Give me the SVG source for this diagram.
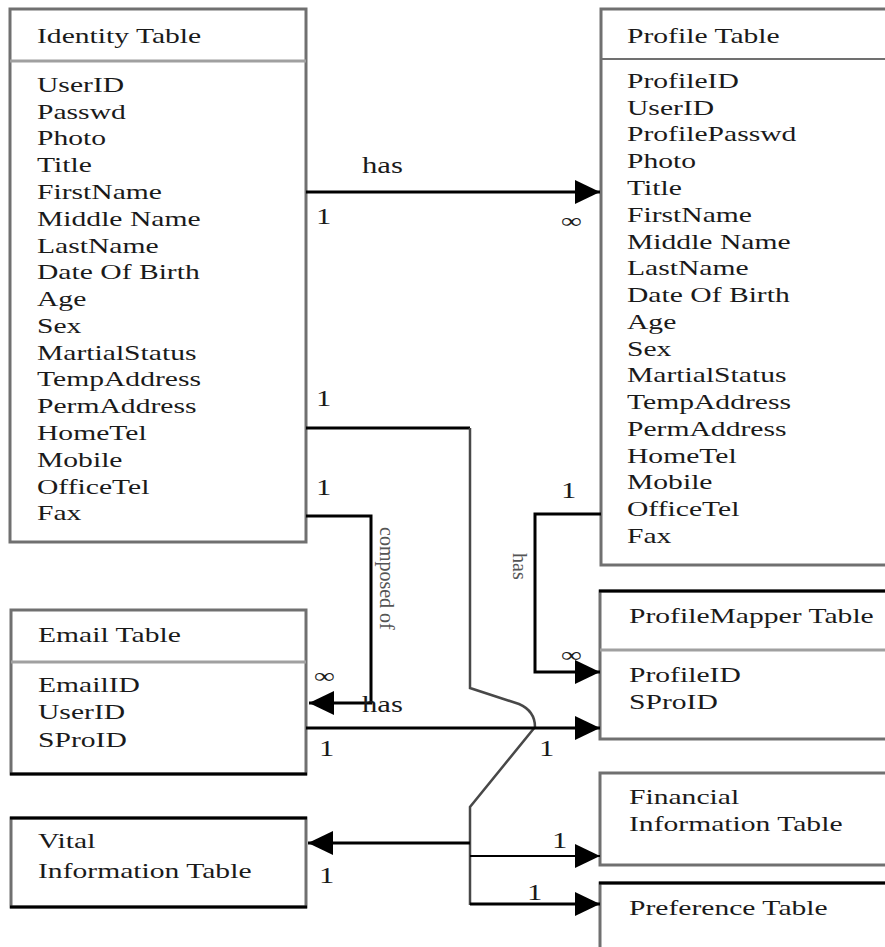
<svg xmlns="http://www.w3.org/2000/svg" width="885" height="947" viewBox="0 0 885 947">
<style>
  .box { fill: #ffffff; stroke: #707070; stroke-width: 3; }
  .dark { stroke: #000000; stroke-width: 3; }
  .sep { stroke: #a0a0a0; stroke-width: 3; }
  .sep2 { stroke: #707070; stroke-width: 2; }
  text { font-family: "Liberation Serif", "Times New Roman", serif; fill: #1a1a1a; }
  .t { font-size: 21px; }
  .lbl { font-size: 24px; }
  .vlbl { font-size: 20px; fill: #555555; }
  .con { fill: none; stroke: #000000; stroke-width: 3; }
  .con2 { fill: none; stroke: #000000; stroke-width: 2; }
  .gray { fill: none; stroke: #484848; stroke-width: 2.5; }
</style>
<defs>
  <marker id="arr" markerUnits="userSpaceOnUse" markerWidth="26" markerHeight="24" refX="25" refY="12" orient="auto">
    <path d="M0,0 L25,12 L0,24 Z" fill="#000000"/>
  </marker>
</defs>

<g id="identity-table">
  <rect class="box" x="10" y="9" width="296" height="533"/>
  <line class="sep" x1="10" y1="61" x2="306" y2="61"/>
  <g transform="translate(37,0) scale(1.41,1)" class="t">
    <text class="t" y="43">Identity Table</text>
    <text class="t" y="92">UserID</text>
    <text class="t" y="118.8">Passwd</text>
    <text class="t" y="145.5">Photo</text>
    <text class="t" y="172.3">Title</text>
    <text class="t" y="199.1">FirstName</text>
    <text class="t" y="225.9">Middle Name</text>
    <text class="t" y="252.6">LastName</text>
    <text class="t" y="279.4">Date Of Birth</text>
    <text class="t" y="306.2">Age</text>
    <text class="t" y="332.9">Sex</text>
    <text class="t" y="359.7">MartialStatus</text>
    <text class="t" y="386.5">TempAddress</text>
    <text class="t" y="413.2">PermAddress</text>
    <text class="t" y="440">HomeTel</text>
    <text class="t" y="466.8">Mobile</text>
    <text class="t" y="493.6">OfficeTel</text>
    <text class="t" y="520.3">Fax</text>
  </g>
</g>

<g id="profile-table">
  <rect class="box" x="601" y="9" width="290" height="556"/>
  <line class="sep2" x1="601" y1="59" x2="891" y2="59"/>
  <g transform="translate(627,0) scale(1.41,1)">
    <text class="t" y="43">Profile Table</text>
    <text class="t" y="88">ProfileID</text>
    <text class="t" y="114.8">UserID</text>
    <text class="t" y="141.5">ProfilePasswd</text>
    <text class="t" y="168.3">Photo</text>
    <text class="t" y="195">Title</text>
    <text class="t" y="221.8">FirstName</text>
    <text class="t" y="248.6">Middle Name</text>
    <text class="t" y="275.3">LastName</text>
    <text class="t" y="302.1">Date Of Birth</text>
    <text class="t" y="328.8">Age</text>
    <text class="t" y="355.6">Sex</text>
    <text class="t" y="382.4">MartialStatus</text>
    <text class="t" y="409.1">TempAddress</text>
    <text class="t" y="435.9">PermAddress</text>
    <text class="t" y="462.6">HomeTel</text>
    <text class="t" y="489.4">Mobile</text>
    <text class="t" y="516.2">OfficeTel</text>
    <text class="t" y="543">Fax</text>
  </g>
</g>

<g id="email-table">
  <rect class="box" x="11" y="610" width="295" height="164"/>
  <line class="sep" x1="11" y1="662" x2="306" y2="662"/>
  <line class="dark" x1="10" y1="774" x2="307" y2="774"/>
  <g transform="translate(38,0) scale(1.41,1)">
    <text class="t" y="642">Email Table</text>
    <text class="t" y="692">EmailID</text>
    <text class="t" y="719.5">UserID</text>
    <text class="t" y="747">SProID</text>
  </g>
</g>

<g id="vital-information-table">
  <rect class="box" x="11" y="818" width="295" height="89"/>
  <line class="dark" x1="10" y1="818" x2="307" y2="818"/>
  <line class="dark" x1="10" y1="907" x2="307" y2="907"/>
  <g transform="translate(38,0) scale(1.41,1)">
    <text class="t" y="848">Vital</text>
    <text class="t" y="878">Information Table</text>
  </g>
</g>

<g id="profilemapper-table">
  <rect class="box" x="600" y="591" width="291" height="148"/>
  <line class="dark" x1="599" y1="591" x2="891" y2="591"/>
  <line class="sep" x1="600" y1="650" x2="891" y2="650"/>
  <g transform="translate(629,0) scale(1.41,1)">
    <text class="t" y="623">ProfileMapper Table</text>
    <text class="t" y="682">ProfileID</text>
    <text class="t" y="709">SProID</text>
  </g>
</g>

<g id="financial-information-table">
  <rect class="box" x="600" y="773" width="291" height="92"/>
  <g transform="translate(629,0) scale(1.41,1)">
    <text class="t" y="804">Financial</text>
    <text class="t" y="831">Information Table</text>
  </g>
</g>

<g id="preference-table">
  <rect class="box" x="600" y="883" width="291" height="80"/>
  <line class="dark" x1="599" y1="883" x2="891" y2="883"/>
  <g transform="translate(629,0) scale(1.41,1)">
    <text class="t" y="915">Preference Table</text>
  </g>
</g>

<g id="connectors">
  <path class="con" d="M306,192 H600" marker-end="url(#arr)"/>
  <path class="con" d="M306,428 H470"/>
  <path class="gray" d="M470,428 V688 L519,704 Q535,711 535,727 L470,807 V905"/>
  <path class="con" d="M470,843 H308" marker-end="url(#arr)"/>
  <path class="con2" d="M470,856 H600" marker-end="url(#arr)"/>
  <path class="con" d="M470,904 H600" marker-end="url(#arr)"/>
  <path class="con" d="M306,516 H371 V703 H309" marker-end="url(#arr)"/>
  <path class="con" d="M601,514 H535 V672 H600" marker-end="url(#arr)"/>
  <path class="con" d="M306,728 H600" marker-end="url(#arr)"/>

  <g id="connector-labels">
    <text class="lbl" transform="translate(362,173) scale(1.28,1)">has</text>
    <text class="lbl" transform="translate(316,224) scale(1.28,1)">1</text>
    <text class="t" transform="translate(561,228) scale(1.41,1)">∞</text>
    <text class="lbl" transform="translate(316,406) scale(1.28,1)">1</text>
    <text class="lbl" transform="translate(316,495) scale(1.28,1)">1</text>
    <text class="lbl" transform="translate(561,498) scale(1.28,1)">1</text>
    <text class="vlbl" transform="translate(380,527) rotate(90)">composed of</text>
    <text class="vlbl" transform="translate(513,553) rotate(90)">has</text>
    <text class="t" transform="translate(561,662) scale(1.41,1)">∞</text>
    <text class="t" transform="translate(314,683) scale(1.41,1)">∞</text>
    <text class="lbl" transform="translate(362,712) scale(1.28,1)">has</text>
    <text class="lbl" transform="translate(319,756) scale(1.28,1)">1</text>
    <text class="lbl" transform="translate(539,756) scale(1.28,1)">1</text>
    <text class="lbl" transform="translate(552,848) scale(1.28,1)">1</text>
    <text class="lbl" transform="translate(527,900) scale(1.28,1)">1</text>
    <text class="lbl" transform="translate(319,883) scale(1.28,1)">1</text>
  </g>
</g>
</svg>
